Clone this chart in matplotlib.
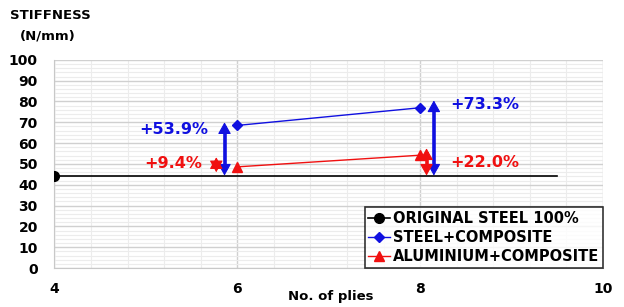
import numpy as np
import matplotlib.pyplot as plt
from matplotlib.ticker import MultipleLocator

# data
base = 44.4
orig_x = [4, 9.5]
orig_y = [base, base]
plies = [6, 8]
steel_comp = [68.5, 77.0]
alu_comp = [48.6, 54.2]
steel_pct = ["+53.9%", "+73.3%"]
alu_pct = ["+9.4%", "+22.0%"]

BLUE = "#1010e0"
RED = "#f01010"

fig = plt.figure(figsize=(6.24, 3.07), dpi=100)
ax = fig.add_axes([0.0873, 0.127, 0.879, 0.678])

ax.plot(orig_x, orig_y, color="black", lw=1.2, marker="o", ms=7,
        markevery=[0], label="ORIGINAL STEEL 100%", zorder=3)
ax.plot(plies, steel_comp, color=BLUE, lw=1.0, marker="D", ms=5,
        label="STEEL+COMPOSITE", zorder=3)
ax.plot(plies, alu_comp, color=RED, lw=1.0, marker="^", ms=7,
        label="ALUMINIUM+COMPOSITE", zorder=3)


def updown(x, y0, y1, color):
    # thick shaft, small heads
    ax.plot([x, x], [y0 + 2, y1 - 2], color=color, lw=2.6, zorder=4,
            solid_capstyle="butt")
    ax.annotate("", xy=(x, y0), xytext=(x, y1),
                arrowprops=dict(arrowstyle="<|-|>,head_length=0.8,head_width=0.45",
                                color=color, lw=0.8, mutation_scale=9,
                                shrinkA=0, shrinkB=0), zorder=4)


# increase arrows
updown(5.86, base, 70.0, BLUE)
updown(5.77, 46.0, 53.2, RED)
updown(8.15, base, 80.5, BLUE)
updown(8.07, base, 57.5, RED)

txt_kw = dict(fontsize=11.5, fontweight="bold", va="center")
ax.text(5.3, 66.5, steel_pct[0], color=BLUE, ha="center", **txt_kw)
ax.text(5.3, 50.2, alu_pct[0], color=RED, ha="center", **txt_kw)
ax.text(8.33, 78.5, steel_pct[1], color=BLUE, ha="left", **txt_kw)
ax.text(8.33, 50.5, alu_pct[1], color=RED, ha="left", **txt_kw)

ax.set_xlim(4, 10)
ax.set_ylim(0, 100)
ax.xaxis.set_major_locator(MultipleLocator(2))
ax.xaxis.set_minor_locator(MultipleLocator(0.4))
ax.yaxis.set_major_locator(MultipleLocator(10))
ax.yaxis.set_minor_locator(MultipleLocator(2))
ax.grid(which="major", color="#d0d0d0", lw=1.0)
ax.grid(which="minor", color="#ececec", lw=0.8)
ax.set_axisbelow(True)
for s in ["top", "right"]:
    ax.spines[s].set_visible(False)
for s in ["left", "bottom"]:
    ax.spines[s].set_color("#c8c8c8")
ax.tick_params(which="both", length=0)
ax.tick_params(axis="x", pad=10)
ax.tick_params(axis="y", pad=12)
for lab in ax.get_xticklabels() + ax.get_yticklabels():
    lab.set_fontweight("bold")
    lab.set_fontsize(10)

fig.text(0.016, 0.95, "STIFFNESS", fontsize=9.5, fontweight="bold", va="center")
fig.text(0.032, 0.882, "(N/mm)", fontsize=9.5, fontweight="bold", va="center")
fig.text(0.53, 0.035, "No. of plies", fontsize=9.5, fontweight="bold",
         ha="center", va="center")

leg = ax.legend(loc="lower right", bbox_to_anchor=(1.0, 0.0), frameon=True,
                fancybox=False, edgecolor="black", handlelength=1.5,
                handletextpad=0.2, borderpad=0.25, labelspacing=0.3,
                borderaxespad=0.0, prop={"weight": "bold", "size": 10.5})
leg.get_frame().set_linewidth(1.2)

fig.savefig("out.png", dpi=100)
